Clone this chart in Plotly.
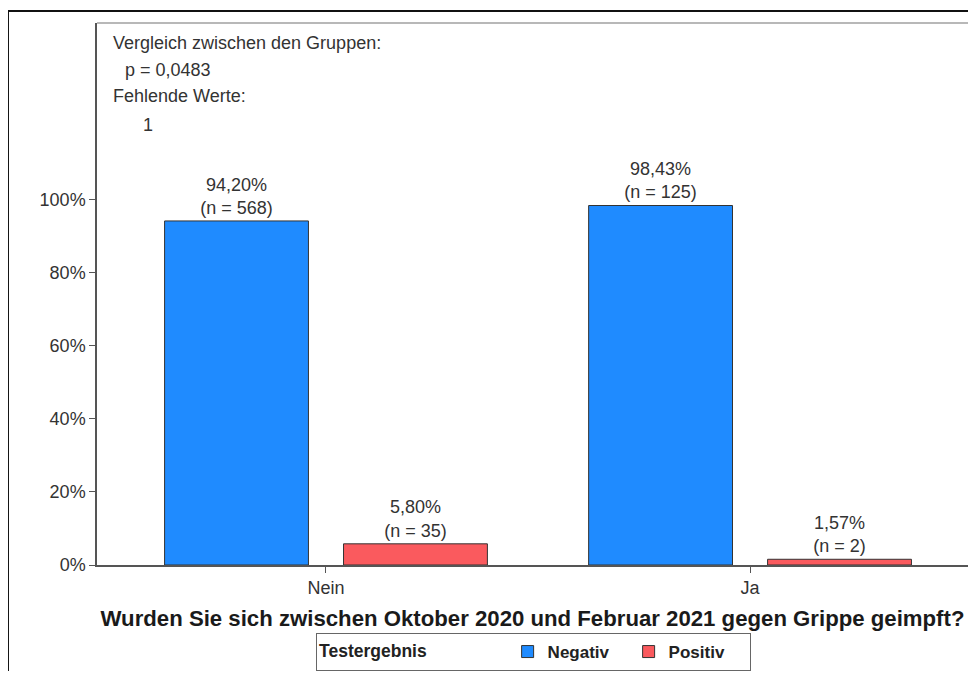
import plotly.graph_objects as go

categories = ["Nein", "Ja"]
series_names = ["Negativ", "Positiv"]
negativ_pct = [94.20, 98.43]
positiv_pct = [5.80, 1.57]
negativ_n = [568, 125]
positiv_n = [35, 2]
y_ticks = [0, 20, 40, 60, 80, 100]
y_tick_labels = ["0%", "20%", "40%", "60%", "80%", "100%"]
info_lines = ["Vergleich zwischen den Gruppen:", "p = 0,0483", "Fehlende Werte:", "1"]

colors = ["#1f8bff", "#fa5a5e"]
FONT = "Liberation Sans, Arial, sans-serif"


def fmt(v):
    return f"{v:.2f}".replace(".", ",") + "%"


fig = go.Figure()
for name, vals, ns, col in [
    (series_names[0], negativ_pct, negativ_n, colors[0]),
    (series_names[1], positiv_pct, positiv_n, colors[1]),
]:
    fig.add_trace(go.Bar(
        name=f"<b>{name}</b>", x=categories, y=vals,
        marker=dict(color=col, line=dict(color="#333333", width=1)),
        text=[f"{fmt(v)}<br>(n = {n})" for v, n in zip(vals, ns)],
        textposition="outside", cliponaxis=False,
        textfont=dict(family=FONT, size=18, color="#333333"),
    ))

# info text block (top-left)
info_pos = [(0.0155, 0.963), (0.0300, 0.913), (0.0155, 0.865), (0.050, 0.812)]
for txt, (px, py) in zip(info_lines, info_pos):
    fig.add_annotation(text=txt, xref="paper", yref="paper", x=px, y=py,
                       xanchor="left", yanchor="middle", showarrow=False,
                       font=dict(family=FONT, size=18, color="#333333"))

# outer frame lines
fig.add_shape(type="line", xref="paper", yref="paper", x0=-0.1022, x1=1.0,
              y0=1.022, y1=1.022, line=dict(color="#111111", width=2))
fig.add_shape(type="line", xref="paper", yref="paper", x0=-0.1022, x1=-0.1022,
              y0=1.022, y1=-0.3, line=dict(color="#111111", width=2))
# light top border of plot area
fig.add_shape(type="line", xref="paper", yref="paper", x0=0, x1=1.0,
              y0=1, y1=1, line=dict(color="#a0a0a0", width=1.5))

fig.update_layout(
    width=960, height=663,
    margin=dict(l=89, r=0, t=15, b=105),
    paper_bgcolor="white", plot_bgcolor="white",
    barmode="group", bargap=0.156, bargroupgap=0.196,
    font=dict(family=FONT, size=18, color="#333333"),
    showlegend=True,
    legend=dict(
        orientation="h", x=0.2515, y=-0.1255, xanchor="left", yanchor="top",
        bordercolor="#666666", borderwidth=1, bgcolor="white",
        title=dict(text="<b>Testergebnis</b>" + "\u00a0" * 15,
                   font=dict(family=FONT, size=17.5, color="#222222")),
        font=dict(family=FONT, size=17, color="#222222"),
        entrywidth=76, itemwidth=30,
    ),
    xaxis=dict(
        range=[-0.54, 1.514], showline=True, linecolor="#555555", linewidth=1.5,
        ticks="outside", ticklen=6, tickcolor="#555555", automargin=False,
        tickfont=dict(family=FONT, size=18, color="#333333"),
        title=dict(text="<b>Wurden Sie sich zwischen Oktober 2020 und Februar 2021 gegen Grippe geimpft?</b>",
                   font=dict(family=FONT, size=22.2, color="#1a1a1a"), standoff=13),
        showgrid=False,
    ),
    yaxis=dict(
        range=[0, 148.4], tickvals=y_ticks, ticktext=y_tick_labels,
        showline=True, linecolor="#555555", linewidth=1.5, mirror=False,
        ticks="outside", ticklen=6, tickcolor="#555555", automargin=False,
        tickfont=dict(family=FONT, size=18, color="#333333"),
        showgrid=False, zeroline=False,
    ),
)

fig.write_html("out.html")
